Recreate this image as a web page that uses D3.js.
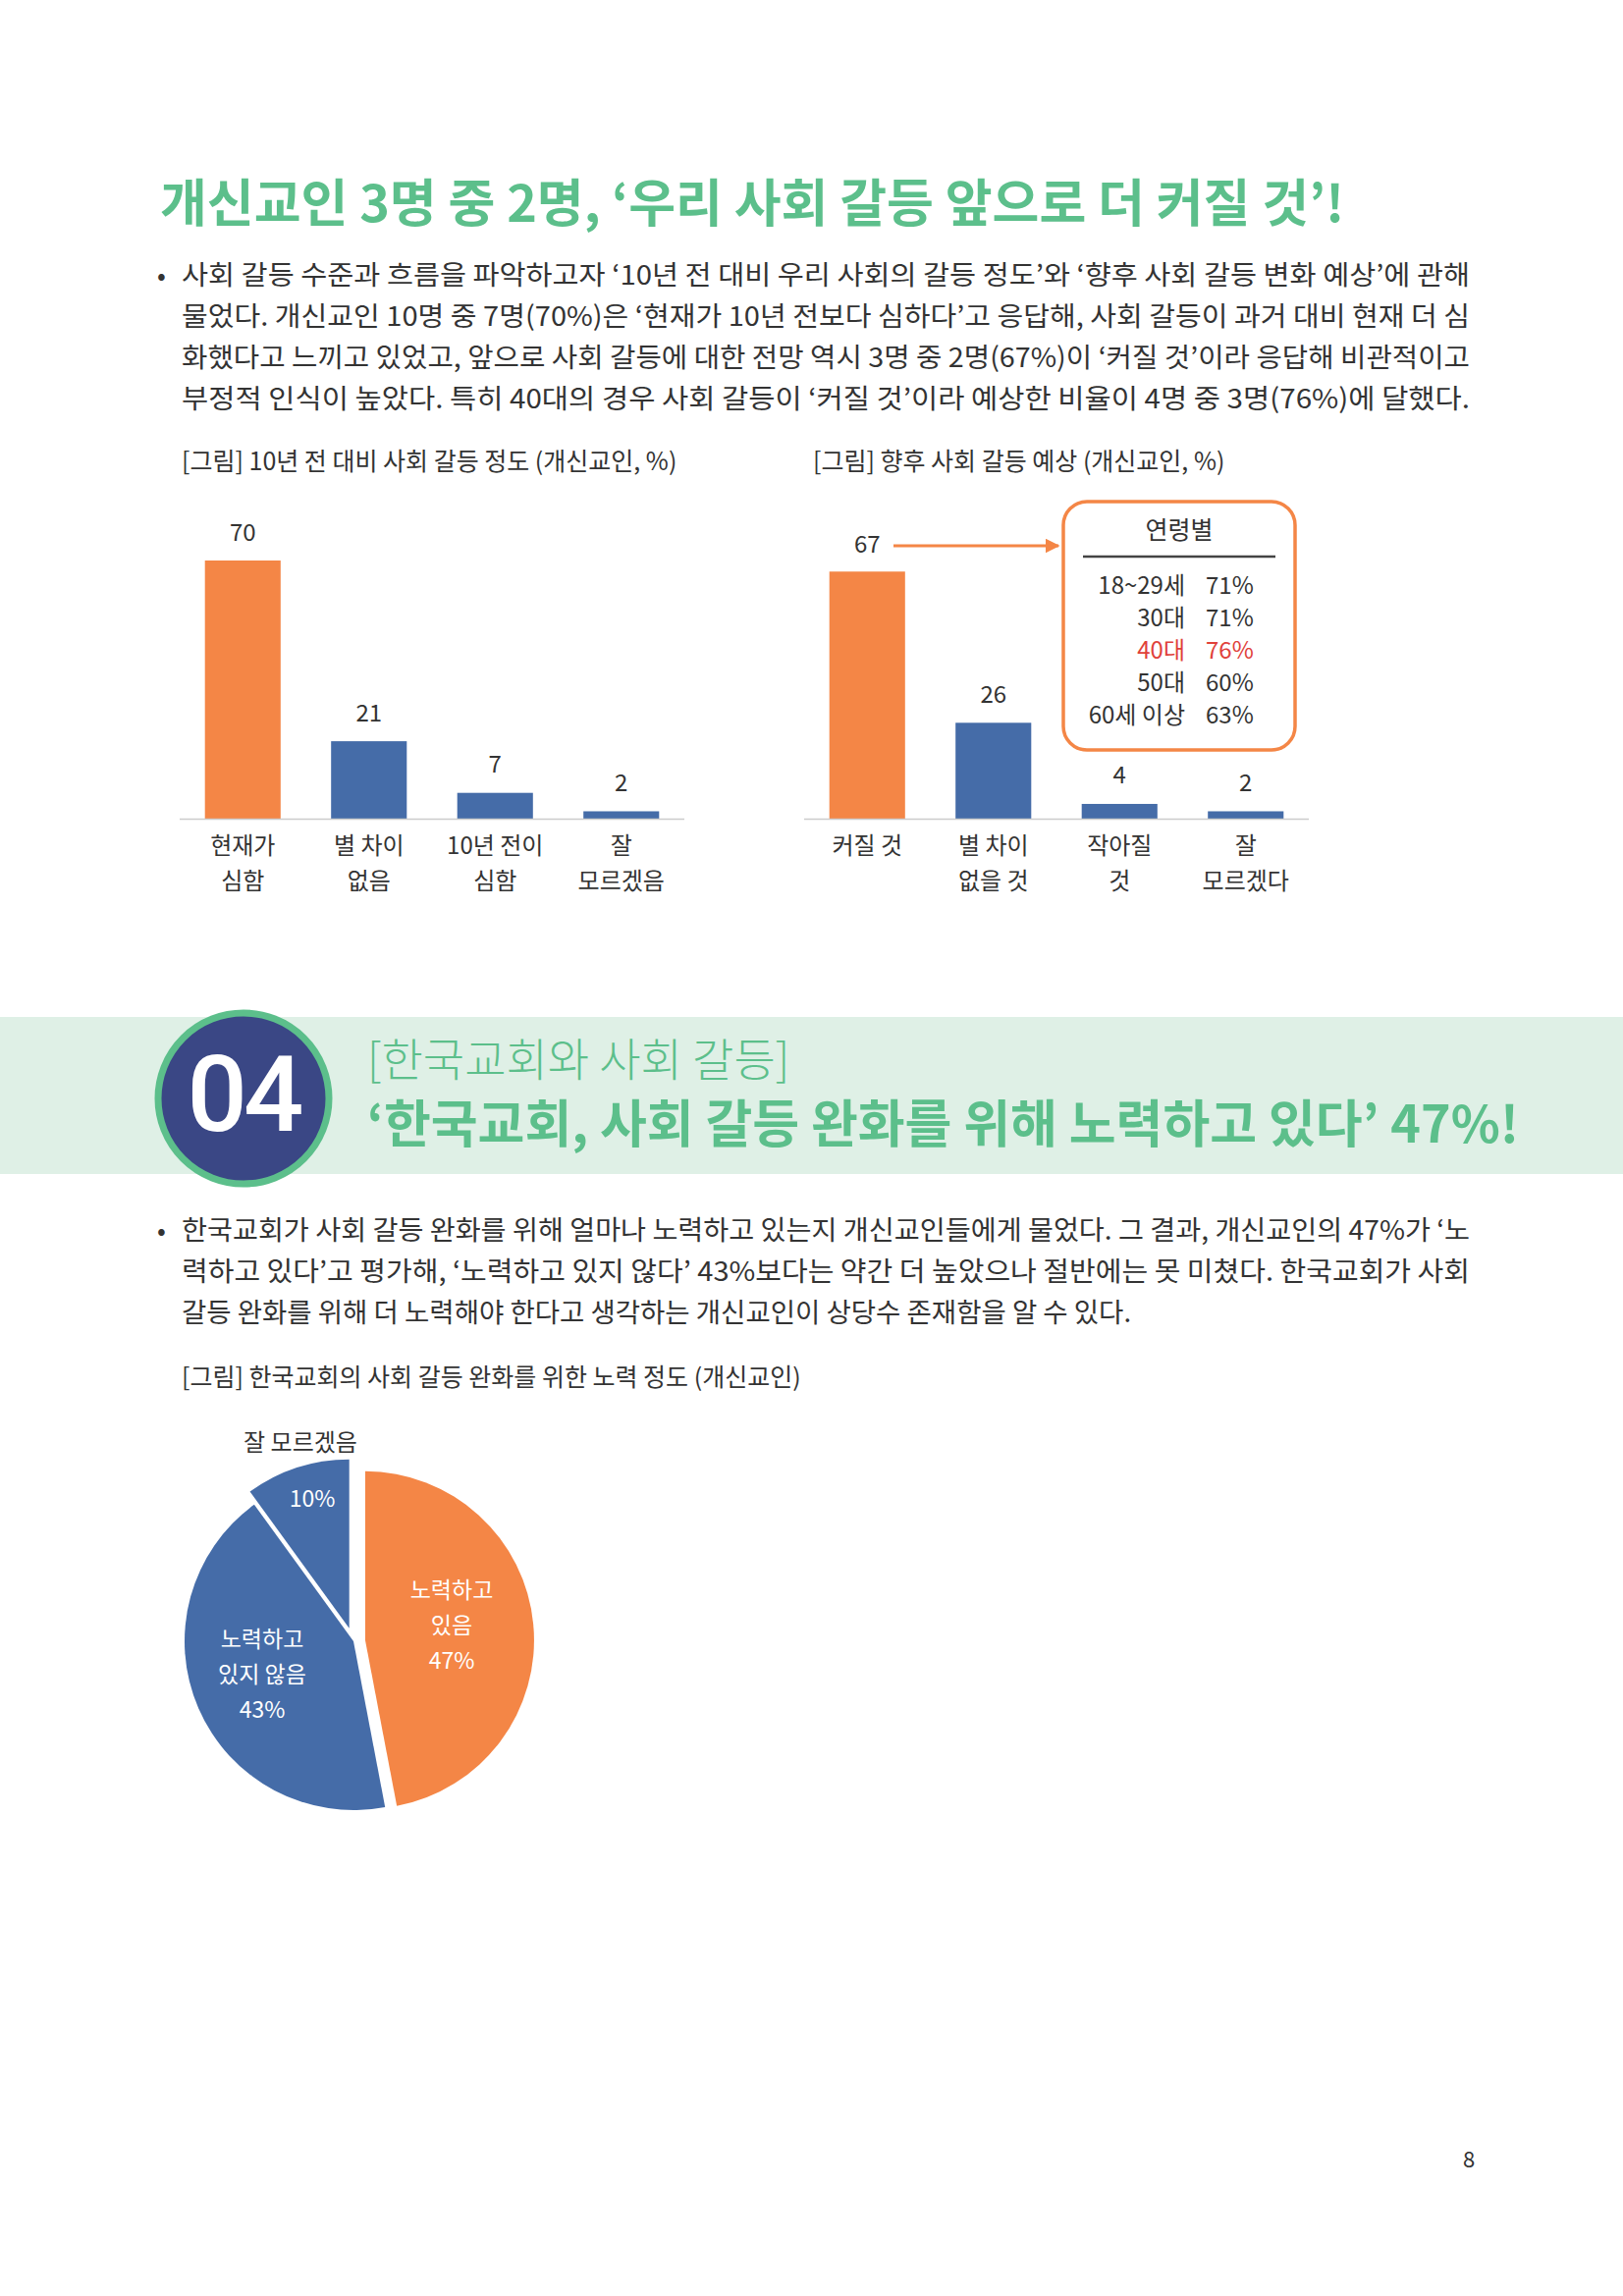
<!DOCTYPE html>
<html><head><meta charset="utf-8">
<script src="https://cdn.jsdelivr.net/npm/d3@7"></script>
<style>body{margin:0;background:#fff}svg{display:block}</style>
</head><body>
<script>
// data
var pastCats = [["현재가","심함"],["별 차이","없음"],["10년 전이","심함"],["잘","모르겠음"]];
var pastVals = [70, 21, 7, 2];
var futureCats = [["커질 것"],["별 차이","없을 것"],["작아질","것"],["잘","모르겠다"]];
var futureVals = [67, 26, 4, 2];
var ageLabels = ["18~29세","30대","40대","50대","60세 이상"];
var ageVals = ["71%","71%","76%","60%","63%"];
var pieCats = ["노력하고 있음","노력하고 있지 않음","잘 모르겠음"];
var pieVals = [47, 43, 10];

var ORANGE = "#f48646", BLUE = "#456ca8", GREEN = "#5cbf8b", TXT = "#333";
var FONT = "'Noto Sans CJK KR','Noto Sans',sans-serif";

var svg = d3.select("body").append("svg").attr("width",1653).attr("height",2339)
	.style("font-family", FONT);

function text(x, y, s, size, opts){
	opts = opts || {};
	return svg.append("text").attr("x",x).attr("y",y).text(s)
		.attr("font-size",size).attr("fill",opts.fill || TXT)
		.attr("font-weight",opts.weight || 400)
		.attr("text-anchor",opts.anchor || "start")
		.attr("dominant-baseline","middle");
}

// heading
text(163, 212, "개신교인 3명 중 2명, ‘우리 사회 갈등 앞으로 더 커질 것’!", 52, {fill:GREEN, weight:700});

var body1 = [
	"사회 갈등 수준과 흐름을 파악하고자 ‘10년 전 대비 우리 사회의 갈등 정도’와 ‘향후 사회 갈등 변화 예상’에 관해",
	"물었다. 개신교인 10명 중 7명(70%)은 ‘현재가 10년 전보다 심하다’고 응답해, 사회 갈등이 과거 대비 현재 더 심",
	"화했다고 느끼고 있었고, 앞으로 사회 갈등에 대한 전망 역시 3명 중 2명(67%)이 ‘커질 것’이라 응답해 비관적이고",
	"부정적 인식이 높았다. 특히 40대의 경우 사회 갈등이 ‘커질 것’이라 예상한 비율이 4명 중 3명(76%)에 달했다."
];
text(160, 283, "•", 26);
body1.forEach(function(l,i){
	text(185, 283 + i*42, l, 27.5).attr("textLength",1312).attr("lengthAdjust","spacingAndGlyphs");
});

text(185, 472, "[그림] 10년 전 대비 사회 갈등 정도 (개신교인, %)", 25);
text(828, 472, "[그림] 향후 사회 갈등 예상 (개신교인, %)", 25);

// bar charts
var y = d3.scaleLinear().domain([0,70]).range([834, 571]);
function barChart(x0, x1, cats, vals, noValue){
	var x = d3.scaleBand().domain(d3.range(cats.length)).range([x0,x1]).paddingInner(0.4).paddingOuter(0.2);
	var g = svg.append("g");
	g.selectAll("rect").data(vals).enter().append("rect")
		.attr("x",function(d,i){return x(i);}).attr("width",x.bandwidth())
		.attr("y",function(d){return y(d);}).attr("height",function(d){return y(0)-y(d);})
		.attr("fill",function(d,i){return i==0 ? ORANGE : BLUE;});
	g.append("line").attr("x1",x0).attr("x2",x1).attr("y1",y(0)+0.5).attr("y2",y(0)+0.5)
		.attr("stroke","#ccc").attr("stroke-width",1.5);
	vals.forEach(function(d,i){
		var cx = x(i)+x.bandwidth()/2;
		if(i != noValue) text(cx, y(d)-27, d, 24, {anchor:"middle"});
		cats[i].forEach(function(c,j){ text(cx, 863 + j*36, c, 24, {anchor:"middle"}); });
	});
	return x;
}
barChart(183, 697, pastCats, pastVals);
var xf = barChart(819, 1333, futureCats, futureVals, 0);
var cx0 = xf(0)+xf.bandwidth()/2;
text(cx0, 556, futureVals[0], 24, {anchor:"middle"});

// arrow
svg.append("defs").append("marker").attr("id","ah").attr("viewBox","0 0 10 10")
	.attr("refX",9).attr("refY",5).attr("markerWidth",5).attr("markerHeight",5).attr("orient","auto")
	.append("path").attr("d","M0,0L10,5L0,10z").attr("fill",ORANGE);
svg.append("line").attr("x1",910).attr("x2",1078).attr("y1",556).attr("y2",556)
	.attr("stroke",ORANGE).attr("stroke-width",3).attr("marker-end","url(#ah)");

// age box
svg.append("rect").attr("x",1083).attr("y",511).attr("width",236).attr("height",253).attr("rx",24)
	.attr("fill","none").attr("stroke",ORANGE).attr("stroke-width",3.5);
text(1201, 542, "연령별", 25, {anchor:"middle"});
svg.append("line").attr("x1",1103).attr("x2",1299).attr("y1",567).attr("y2",567).attr("stroke","#444").attr("stroke-width",2.5);
ageLabels.forEach(function(l,i){
	var c = i==2 ? "#e0413a" : TXT;
	text(1207, 598 + i*33, l, 24, {anchor:"end", fill:c});
	text(1228, 598 + i*33, ageVals[i], 24, {fill:c});
});

// section band
svg.append("rect").attr("x",0).attr("y",1036).attr("width",1653).attr("height",160).attr("fill","#dff0e6");
svg.append("circle").attr("cx",248).attr("cy",1119).attr("r",87).attr("fill","#3a4785")
	.attr("stroke",GREEN).attr("stroke-width",7);
text(248, 1123, "04", 108, {fill:"#fff", anchor:"middle", weight:500}).attr("font-family","Roboto,sans-serif").attr("letter-spacing",-4);
text(374, 1084, "[한국교회와 사회 갈등]", 46, {fill:GREEN, weight:300});
text(374, 1150, "‘한국교회, 사회 갈등 완화를 위해 노력하고 있다’ 47%!", 52, {fill:GREEN, weight:700});

var body2 = [
	"한국교회가 사회 갈등 완화를 위해 얼마나 노력하고 있는지 개신교인들에게 물었다. 그 결과, 개신교인의 47%가 ‘노",
	"력하고 있다’고 평가해, ‘노력하고 있지 않다’ 43%보다는 약간 더 높았으나 절반에는 못 미쳤다. 한국교회가 사회",
	"갈등 완화를 위해 더 노력해야 한다고 생각하는 개신교인이 상당수 존재함을 알 수 있다."
];
text(160, 1256, "•", 26);
body2.forEach(function(l,i){
	var t = text(185, 1256 + i*42, l, 27.5);
	if(i<2) t.attr("textLength",1312).attr("lengthAdjust","spacingAndGlyphs");
});
text(185, 1405, "[그림] 한국교회의 사회 갈등 완화를 위한 노력 정도 (개신교인)", 25);

// pie
var pc = [360, 1672], R = 172;
var pie = d3.pie().sort(null)(pieVals);
var arc = d3.arc().innerRadius(0).outerRadius(R);
var explode = [12, 0, 14];
var pieColors = [ORANGE, BLUE, BLUE];
var pg = svg.append("g").attr("transform","translate("+pc+")");
pie.forEach(function(s,i){
	var a = (s.startAngle+s.endAngle)/2;
	pg.append("path").attr("d",arc(s)).attr("fill",pieColors[i])
		.attr("transform","translate("+(Math.sin(a)*explode[i])+","+(-Math.cos(a)*explode[i])+")");
});
["노력하고","있음",pieVals[0]+"%"].forEach(function(s,i){ text(460, 1622+i*36, s, 23, {fill:"#fff",anchor:"middle"}); });
["노력하고","있지 않음",pieVals[1]+"%"].forEach(function(s,i){ text(267, 1672+i*36, s, 23, {fill:"#fff",anchor:"middle"}); });
text(318, 1529, pieVals[2]+"%", 23, {fill:"#fff",anchor:"middle"});
text(306, 1471, pieCats[2], 24, {anchor:"middle"});

text(1496, 2202, "8", 22, {anchor:"middle"});
</script>
</body></html>
